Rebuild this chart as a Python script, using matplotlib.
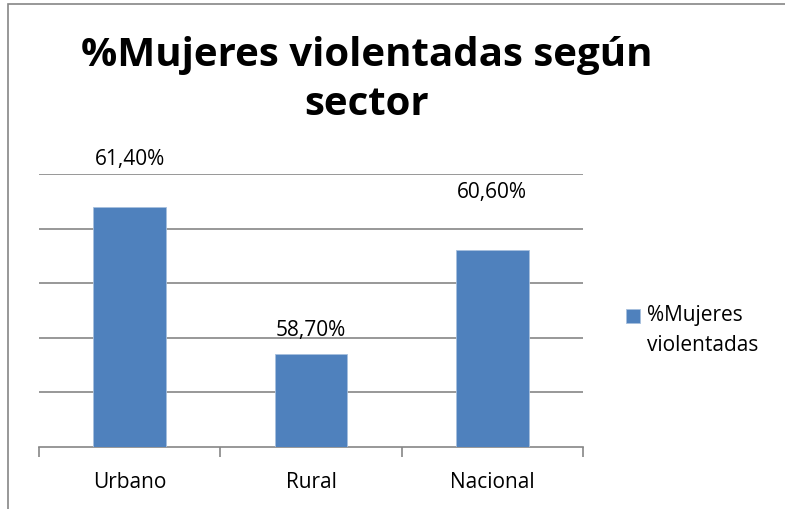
import matplotlib
matplotlib.use("Agg")
from matplotlib import pyplot as plt
from matplotlib.patches import Rectangle

categorias = ["Urbano", "Rural", "Nacional"]
porcentajes = [61.4, 58.7, 60.6]
etiquetas = ["61,40%", "58,70%", "60,60%"]
serie = "%Mujeres\nviolentadas"

plt.rcParams['font.family'] = ['Open Sans', 'DejaVu Sans']

fig = plt.figure(figsize=(7.85, 5.1), dpi=100)
ax = fig.add_axes([39/785, 1 - 448/510, 544/785, 273/510])

color = '#4f81bd'
xs = list(range(len(categorias)))
base = 57
ax.bar(xs, [p - base for p in porcentajes], bottom=base, width=0.4,
       color=color, edgecolor='#a7c0de', linewidth=0.6, zorder=3, label=serie)

ax.set_xlim(-0.5, 2.5)
ax.set_ylim(57, 62)
ax.set_yticks([58, 59, 60, 61, 62])
ax.yaxis.grid(True, color='#868686', linewidth=1.2, zorder=0)
ax.tick_params(axis='y', left=False, labelleft=False)
ax.set_xticks([-0.5, 0.5, 1.5, 2.5], minor=False)
ax.set_xticklabels([])
ax.tick_params(axis='x', length=7, color='#868686', width=1.2, direction='out')
ax.set_xticks(xs, minor=True)
ax.set_xticklabels(categorias, minor=True, fontsize=15)
ax.tick_params(axis='x', which='minor', length=0, pad=17)
for s in ['left', 'right', 'top']:
    ax.spines[s].set_visible(False)
ax.spines['bottom'].set_color('#868686')
ax.spines['bottom'].set_linewidth(1.2)

# desplazamiento de las etiquetas (px)
desp = [48, 25, 59]
for x, p, t, d in zip(xs, porcentajes, etiquetas, desp):
    ax.annotate(t, (x, p), xytext=(0, d * 0.72), textcoords='offset points',
                ha='center', va='center', fontsize=15, annotation_clip=False)

fig.text(367/785, 1 - 80/510, "%Mujeres violentadas según\nsector", ha='center',
         va='center', fontsize=29, fontweight='bold', linespacing=1.32)

leg = ax.legend(loc='center left', bbox_to_anchor=(1.045, 0.43), frameon=False,
                fontsize=15, handlelength=0.65, handleheight=0.65, handletextpad=0.35)
for t in leg.get_texts():
    t.set_linespacing(1.55)
# cuadrito alineado con la primera linea, como en Excel
h = leg.legend_handles[0]
h.set_y(h.get_y() + 10)

fig.patches.append(Rectangle((8/785, -0.1), 1.2, 1 - 5/510 + 0.1, transform=fig.transFigure,
                             fill=False, edgecolor='#868686', linewidth=1.2))

fig.savefig("out.png", dpi=100)
